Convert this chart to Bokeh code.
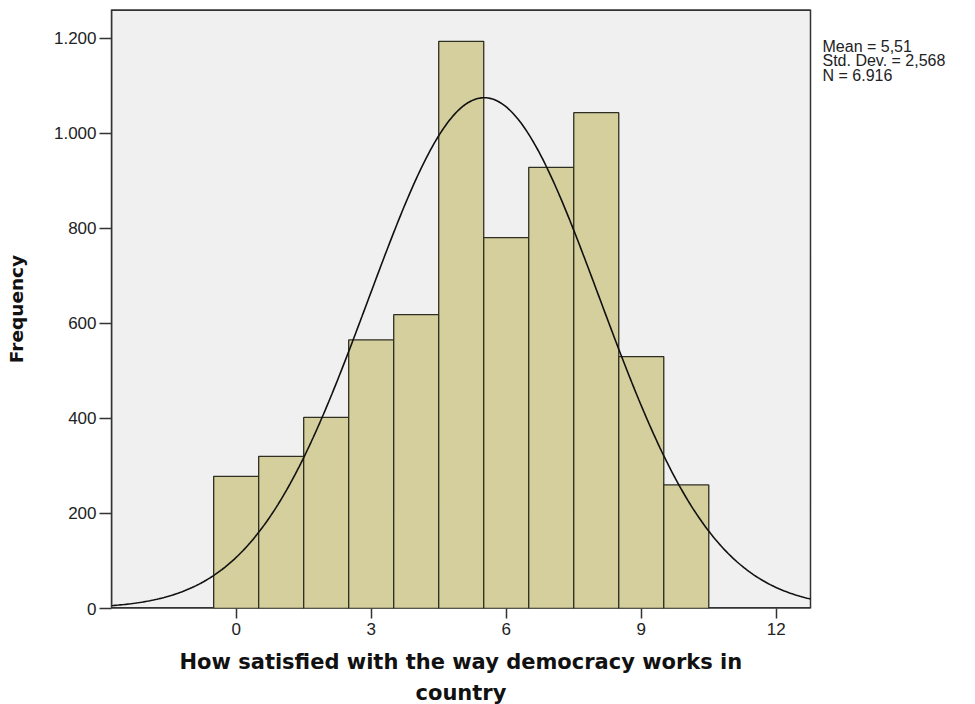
import numpy as np
from bokeh.plotting import figure
from bokeh.models import Range1d, FixedTicker, Label, CustomJSTickFormatter, Title
from bokeh.embed import file_html
from bokeh.resources import INLINE

# Data
scores = [0, 1, 2, 3, 4, 5, 6, 7, 8, 9, 10]
frequency = [278, 320, 402, 565, 618, 1193, 780, 928, 1043, 530, 260]
stat_mean = 5.51
stat_sd = 2.568
stat_n = 6916
x_ticks = [0, 3, 6, 9, 12]
y_ticks = [0, 200, 400, 600, 800, 1000, 1200]
x_title_lines = ["How satisfied with the way democracy works in", "country"]
y_title = "Frequency"

# plotting area (data units) and an extended frame so the side text is not clipped
X0, X1, Y0, Y1 = -2.77, 12.76, 0, 1260
LEFT_PX = 111
PLOT_PX = 699.0                       # width in px of the grey plotting area
FRAME_PX = 975 - LEFT_PX              # full frame width
X_END = X0 + (X1 - X0) * FRAME_PX / PLOT_PX

p = figure(width=975, height=704, output_backend="svg", toolbar_location=None,
           x_range=Range1d(X0, X_END), y_range=Range1d(Y0, Y1),
           min_border_left=LEFT_PX, min_border_right=0, min_border_top=9, min_border_bottom=96)
p.background_fill_color = "white"
p.border_fill_color = "white"
p.outline_line_color = None
p.grid.visible = False

# grey plotting area
p.quad(left=[X0], right=[X1], bottom=[Y0], top=[Y1], fill_color="#f0f0f0",
       line_color="#333333", line_width=1.5)
p.segment(x0=[X0, X0], y0=[Y0, Y1], x1=[X1, X1], y1=[Y0, Y1],
          line_color="#333333", line_width=3)

p.quad(left=[s - 0.5 for s in scores], right=[s + 0.5 for s in scores],
       bottom=0, top=frequency, fill_color="#d4cf9c", line_color="#2e2e22", line_width=1.3)

xs = np.linspace(X0, X1, 400)
ys = stat_n * 1.0 / (stat_sd * np.sqrt(2 * np.pi)) * np.exp(-0.5 * ((xs - stat_mean) / stat_sd) ** 2)
p.line(xs, ys, line_color="#111111", line_width=1.6)

for ax in (p.xaxis, p.yaxis):
    ax.major_label_text_font = "Liberation Sans"
    ax.major_label_text_font_size = "17px"
    ax.major_label_text_color = "#222222"
    ax.axis_line_color = "#333333"
    ax.axis_line_width = 1.5
    ax.major_tick_line_color = "#333333"
    ax.major_tick_line_width = 1.5
    ax.minor_tick_line_color = None
    ax.major_tick_in = 0
    ax.axis_label_text_font = "DejaVu Sans"
    ax.axis_label_text_font_style = "bold"
    ax.axis_label_text_color = "#111111"

p.xaxis.axis_line_color = None
p.xaxis.ticker = FixedTicker(ticks=x_ticks)
p.yaxis.ticker = FixedTicker(ticks=y_ticks)
p.xaxis.major_tick_out = 10
p.yaxis.major_tick_out = 12
p.xaxis.major_label_standoff = 4
p.yaxis.major_label_standoff = 3
p.yaxis.formatter = CustomJSTickFormatter(code="""
    return tick.toFixed(0).replace(/\\B(?=(\\d{3})+(?!\\d))/g, '.');
""")
p.yaxis.axis_label = y_title
p.yaxis.axis_label_text_font_size = "18.5px"
p.yaxis.axis_label_standoff = 24

# x title, two lines, centred under the grey plotting area (not the extended frame)
plot_center_off = PLOT_PX / 2          # relative to the frame's left edge
line_widths_px = [563, 91]             # rendered widths at 21px DejaVu Sans Bold
standoffs = [20, -9]
for txt, w, so in zip(x_title_lines, line_widths_px, standoffs):
    p.add_layout(Title(text=txt, align="left", offset=plot_center_off - w / 2,
                       text_font="DejaVu Sans", text_font_style="bold", text_font_size="21px",
                       text_color="#111111", standoff=so), "below")

def fmt_dec(v, d):
    return f"{v:.{d}f}".replace(".", ",")

stats_lines = [f"Mean = {fmt_dec(stat_mean, 2)}",
               f"Std. Dev. = {fmt_dec(stat_sd, 3)}",
               "N = " + f"{stat_n:,}".replace(",", ".")]
px_per_unit = 599.0 / (Y1 - Y0)
for i, t in enumerate(stats_lines):
    p.add_layout(Label(x=X1, y=Y1 - (28 + 14.5 * i) / px_per_unit,
                       x_offset=12, text=t,
                       text_font="Liberation Sans", text_font_size="16px",
                       text_color="#222222", text_baseline="top"))

open("out.html", "w").write(file_html(p, INLINE))
